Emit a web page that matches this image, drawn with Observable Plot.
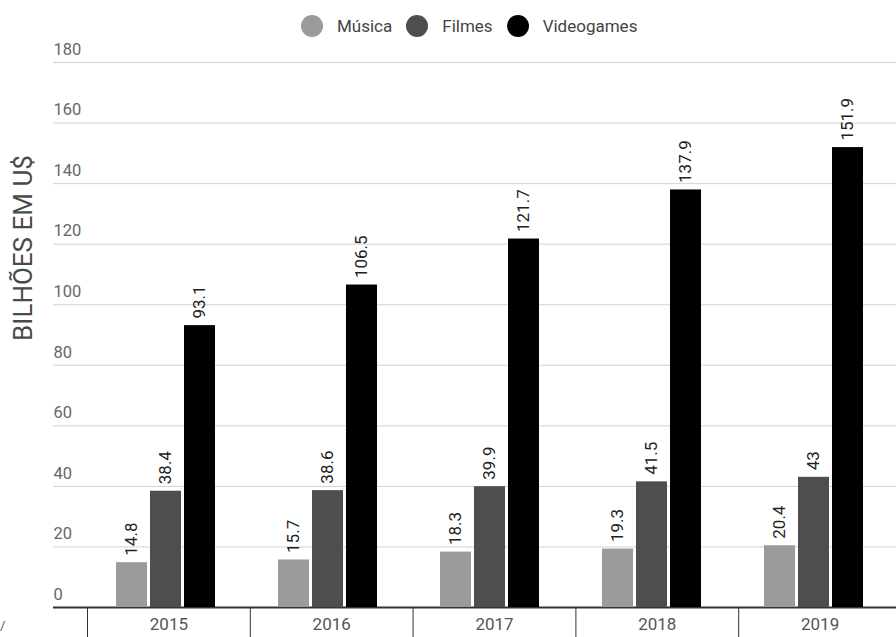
<!DOCTYPE html>
<html>
<head>
<meta charset="utf-8">
<script src="https://cdn.jsdelivr.net/npm/d3@7"></script>
<script src="https://cdn.jsdelivr.net/npm/@observablehq/plot@0.6"></script>
<style>
  html, body { margin: 0; padding: 0; background: #fff; overflow: hidden; }
  #wrap { position: relative; width: 896px; height: 637px; overflow: hidden; font-family: Roboto, "Noto Sans", sans-serif; }
  #wrap svg { position: absolute; left: 0; top: 0; }
  #legend { position: absolute; left: 301px; top: 15px; display: flex; align-items: center; gap: 14px; font-size: 17px; color: #444; z-index: 3; }
  #legend .dot { width: 22px; height: 22px; border-radius: 50%; }
  #ytitle { position: absolute; left: 23px; top: 248px; transform: translate(-50%, -50%) rotate(-90deg); white-space: nowrap; font-size: 26px; color: #4a4a4a; z-index: 3; }
  #corner { position: absolute; left: 0px; top: 618px; font-size: 13px; color: #555; z-index: 3; }
</style>
</head>
<body>
<div id="wrap">
  <div id="legend"></div>
  <div id="ytitle">BILHÕES EM U$</div>
  <div id="corner">/</div>
</div>
<script>
const years = [2015, 2016, 2017, 2018, 2019];
const series = ["Música", "Filmes", "Videogames"];
const musica = [14.8, 15.7, 18.3, 19.3, 20.4];
const filmes = [38.4, 38.6, 39.9, 41.5, 43];
const videogames = [93.1, 106.5, 121.7, 137.9, 151.9];
const yTicks = [0, 20, 40, 60, 80, 100, 120, 140, 160, 180];
const colors = ["#9b9b9b", "#4e4e4e", "#000000"];

const values = [musica, filmes, videogames];
const data = years.flatMap((year, i) => series.map((s, j) => ({year, series: s, value: values[j][i]})));
const boundaries = years.map(y => y - 0.5).concat([years[years.length - 1] + 0.5]);

const W = 896, H = 637;
const common = {width: W, height: H, marginLeft: 53, marginRight: 0, marginTop: 62, marginBottom: 30};

const bg = Plot.plot({
  ...common,
  style: {fontFamily: "Roboto, 'Noto Sans', sans-serif", background: "transparent", overflow: "visible"},
  x: {type: "linear", domain: [boundaries[0], boundaries[boundaries.length - 1]], range: [87, 901]},
  y: {domain: [0, 180]},
  marks: [
    Plot.ruleY(yTicks.filter(t => t > 0), {stroke: "#d2d2d2"}),
    Plot.axisY({ticks: yTicks, tickSize: 0, tickPadding: 0, textAnchor: "start", dy: -13, fontSize: 16.5, color: "#666", label: null}),
    Plot.ruleY([0], {stroke: "#333", strokeWidth: 2}),
    Plot.axisX({ticks: boundaries, tickSize: 30, tickFormat: () => "", color: "#333", label: null}),
    Plot.axisX({ticks: years, tickSize: 0, tickPadding: 10, tickFormat: d => String(d), fontSize: 17, color: "#555", label: null})
  ]
});

const fg = Plot.plot({
  ...common,
  style: {fontFamily: "Roboto, 'Noto Sans', sans-serif", background: "transparent", overflow: "visible"},
  facet: {data, x: "year"},
  fx: {domain: years, range: [87, 901], padding: 0, axis: null, label: null},
  x: {domain: series, paddingInner: 0.086, paddingOuter: 0.86, align: 0.43, axis: null, label: null},
  y: {domain: [0, 180], axis: null},
  color: {domain: series, range: colors},
  marks: [
    Plot.barY(data, {x: "series", y: "value", fill: "series"}),
    Plot.text(data, {x: "series", y: "value", text: d => String(d.value), rotate: -90, textAnchor: "start", dy: -7, fontSize: 17, fill: "#222"})
  ]
});

const wrap = document.getElementById("wrap");
wrap.appendChild(bg);
wrap.appendChild(fg);

const legend = document.getElementById("legend");
series.forEach((s, j) => {
  const dot = document.createElement("span");
  dot.className = "dot";
  dot.style.background = colors[j];
  const lab = document.createElement("span");
  lab.textContent = s;
  legend.appendChild(dot);
  legend.appendChild(lab);
});
</script>
</body>
</html>
